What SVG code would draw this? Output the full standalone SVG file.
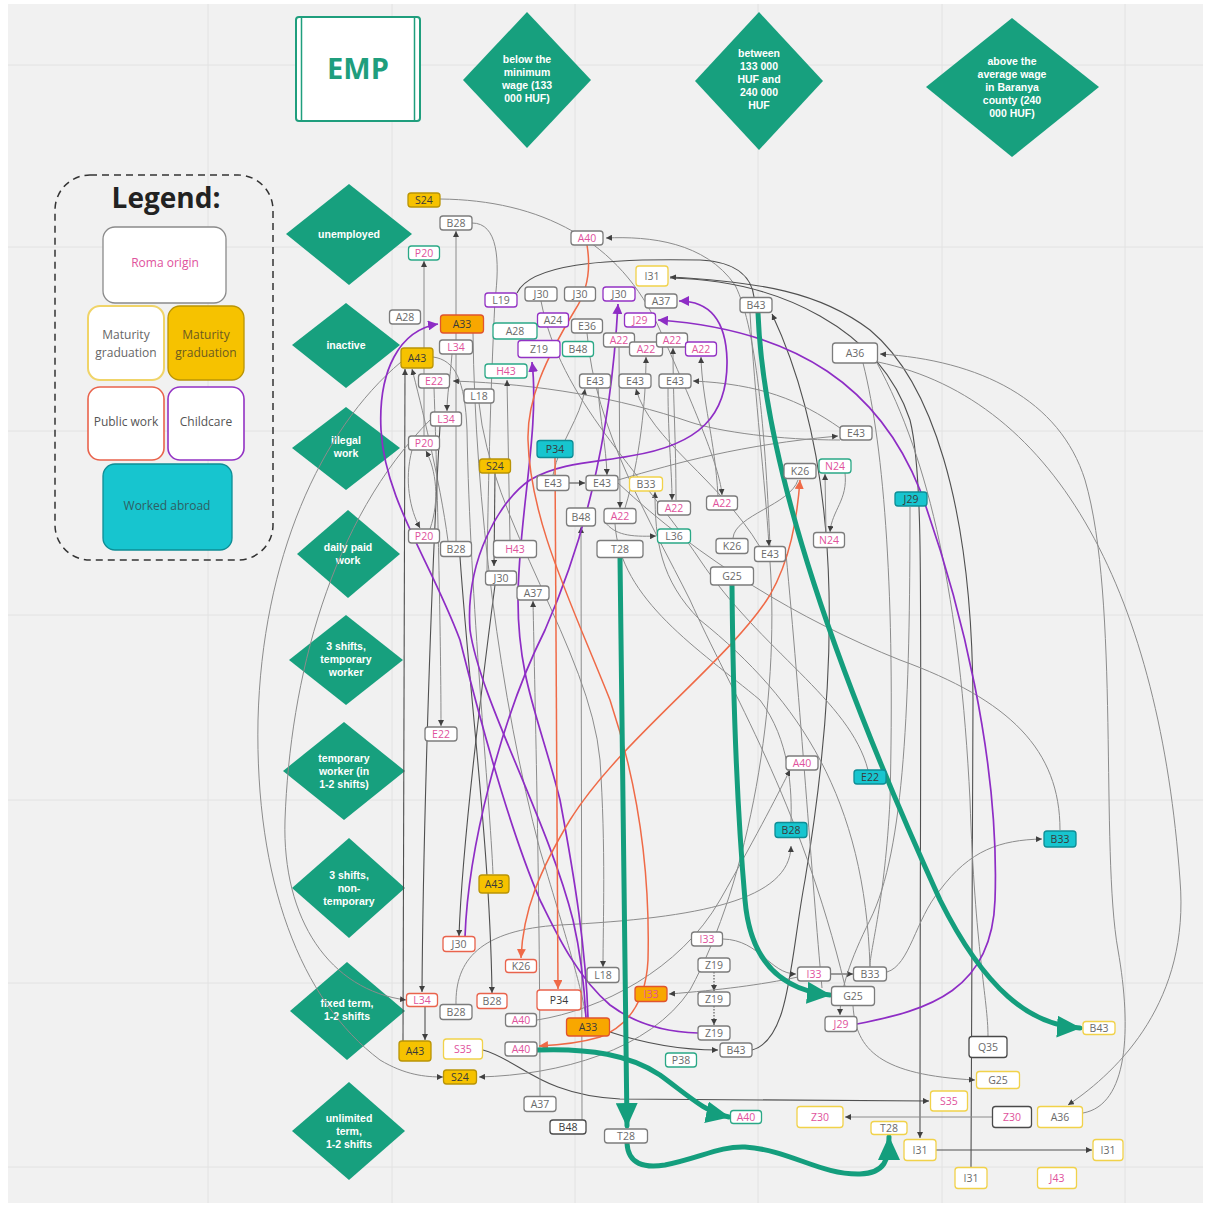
<svg xmlns="http://www.w3.org/2000/svg" width="1206" height="1206" viewBox="0 0 1206 1206">
<defs>
<style>
.grid{stroke:#e2e2e2;stroke-width:1}
.dia{fill:#17a07e}
.dt{fill:#fff;font-family:"Liberation Sans",Arial,sans-serif;font-weight:bold;font-size:10.5px;text-anchor:middle}
.n rect{stroke-width:1.3}
.bg{fill:#fff;stroke:#7c7c7c}
.bk{fill:#fff;stroke:#4a4a4a}
.by{fill:#fff;stroke:#f1d24a}
.bt{fill:#fff;stroke:#2aa886}
.br{fill:#fff;stroke:#e9634c}
.bp{fill:#fff;stroke:#9332c4}
.fy{fill:#f6c200;stroke:#b99406}
.fo{fill:#f8a700;stroke:#e0542e}
.fc{fill:#17c5cf;stroke:#0e8d95}
.n text{font-family:"Open Sans","DejaVu Sans",sans-serif;font-size:10.5px;text-anchor:middle}
.tg{fill:#6a6a6a}
.tp{fill:#e0529c}
.td{fill:#3a3a3a}
.c{fill:none;stroke:#8c8c8c;stroke-width:1}
.cd{fill:none;stroke:#505050;stroke-width:1.1}
.cp{fill:none;stroke:#8e2dc5;stroke-width:1.7}
.co{fill:none;stroke:#ef6a47;stroke-width:1.5}
.cg{fill:none;stroke:#149e7d;stroke-width:5;stroke-linecap:round}
.lt{font-family:"Open Sans","DejaVu Sans",sans-serif;font-size:12px;text-anchor:middle}
</style>
<marker id="ag" viewBox="0 0 6 6" refX="6" refY="3" markerWidth="6" markerHeight="6" markerUnits="userSpaceOnUse" orient="auto-start-reverse"><path d="M0,0 L6,3 L0,6 z" fill="#404040"/></marker>
<marker id="ap" viewBox="0 0 10 10" refX="10" refY="5" markerWidth="10" markerHeight="10" markerUnits="userSpaceOnUse" orient="auto-start-reverse"><path d="M0,0 L10,5 L0,10 z" fill="#8e2dc5"/></marker>
<marker id="ao" viewBox="0 0 9 9" refX="9" refY="4.5" markerWidth="9" markerHeight="9" markerUnits="userSpaceOnUse" orient="auto-start-reverse"><path d="M0,0 L9,4.5 L0,9 z" fill="#ef6a47"/></marker>
<marker id="agr" viewBox="0 0 24 22" refX="23" refY="11" markerWidth="24" markerHeight="22" markerUnits="userSpaceOnUse" orient="auto"><path d="M0,0 L24,11 L0,22 z" fill="#149e7d"/></marker>
</defs>
<rect width="1206" height="1206" fill="#fff"/>
<rect x="8" y="4" width="1195" height="1199" fill="#f1f1f1"/>
<g id="grid">
<path class="grid" d="M208,4V1203M392,4V1203M575,4V1203M758,4V1203M942,4V1203M1125,4V1203"/>
<path class="grid" d="M8,65H1203M8,247H1203M8,431H1203M8,615H1203M8,800H1203M8,983H1203M8,1167H1203"/>
</g>

<g id="header">
<g id="emp">
<rect x="296" y="17" width="124" height="104" rx="3" fill="#fff" stroke="#1f9e7d" stroke-width="2"/>
<path d="M301.5,17V121M414.5,17V121" stroke="#1f9e7d" stroke-width="1.5"/>
<text x="358" y="79" font-family="Open Sans,DejaVu Sans,sans-serif" font-weight="bold" font-size="29" fill="#1f9e7d" text-anchor="middle">EMP</text>
</g>
<g id="w1"><path class="dia" d="M527,12 L591,80 L527,148 L463,80 z"/>
<text class="dt"><tspan x="527" y="63">below the</tspan><tspan x="527" y="76">minimum</tspan><tspan x="527" y="89">wage (133</tspan><tspan x="527" y="102">000 HUF)</tspan></text></g>
<g id="w2"><path class="dia" d="M759,12 L823,81 L759,150 L695,81 z"/>
<text class="dt"><tspan x="759" y="57">between</tspan><tspan x="759" y="70">133 000</tspan><tspan x="759" y="83">HUF and</tspan><tspan x="759" y="96">240 000</tspan><tspan x="759" y="109">HUF</tspan></text></g>
<g id="w3"><path class="dia" d="M1012,18 L1099,87 L1012,157 L926,87 z"/>
<text class="dt"><tspan x="1012" y="65">above the</tspan><tspan x="1012" y="78">average wage</tspan><tspan x="1012" y="91">in Baranya</tspan><tspan x="1012" y="104">county (240</tspan><tspan x="1012" y="117">000 HUF)</tspan></text></g>
</g>

<g id="rows">
<g id="r1"><path class="dia" d="M349,184 L412,234 L349,285 L286,234 z"/><text class="dt" x="349" y="238">unemployed</text></g>
<g id="r2"><path class="dia" d="M346,303 L400,345 L346,388 L292,345 z"/><text class="dt" x="346" y="349">inactive</text></g>
<g id="r3"><path class="dia" d="M346,407 L400,448 L346,490 L292,448 z"/><text class="dt"><tspan x="346" y="444">illegal</tspan><tspan x="346" y="457">work</tspan></text></g>
<g id="r4"><path class="dia" d="M348,510 L400,554 L348,598 L297,554 z"/><text class="dt"><tspan x="348" y="551">daily paid</tspan><tspan x="348" y="564">work</tspan></text></g>
<g id="r5"><path class="dia" d="M346,615 L403,660 L346,705 L289,660 z"/><text class="dt"><tspan x="346" y="650">3 shifts,</tspan><tspan x="346" y="663">temporary</tspan><tspan x="346" y="676">worker</tspan></text></g>
<g id="r6"><path class="dia" d="M344,722 L405,771 L344,820 L283,771 z"/><text class="dt"><tspan x="344" y="762">temporary</tspan><tspan x="344" y="775">worker (in</tspan><tspan x="344" y="788">1-2 shifts)</tspan></text></g>
<g id="r7"><path class="dia" d="M349,838 L405,888 L349,938 L292,888 z"/><text class="dt"><tspan x="349" y="879">3 shifts,</tspan><tspan x="349" y="892">non-</tspan><tspan x="349" y="905">temporary</tspan></text></g>
<g id="r8"><path class="dia" d="M347,962 L405,1011 L347,1060 L290,1011 z"/><text class="dt"><tspan x="347" y="1007">fixed term,</tspan><tspan x="347" y="1020">1-2 shifts</tspan></text></g>
<g id="r9"><path class="dia" d="M349,1082 L405,1131 L349,1180 L292,1131 z"/><text class="dt"><tspan x="349" y="1122">unlimited</tspan><tspan x="349" y="1135">term,</tspan><tspan x="349" y="1148">1-2 shifts</tspan></text></g>
</g>

<g id="legend">
<rect x="55" y="175" width="218" height="385" rx="35" fill="none" stroke="#333" stroke-width="1.5" stroke-dasharray="7,5"/>
<text x="166" y="208" font-family="Open Sans,DejaVu Sans,sans-serif" font-weight="bold" font-size="28" fill="#222" text-anchor="middle">Legend:</text>
<g id="lg-roma"><rect x="103" y="227" width="123" height="76" rx="12" fill="#fff" stroke="#8a8a8a" stroke-width="1.3"/><text class="lt" x="165" y="267" fill="#e0529c">Roma origin</text></g>
<g id="lg-mat1"><rect x="88" y="306" width="76" height="74" rx="12" fill="#fff" stroke="#f0d468" stroke-width="2"/><text class="lt" fill="#666"><tspan x="126" y="339">Maturity</tspan><tspan x="126" y="357">graduation</tspan></text></g>
<g id="lg-mat2"><rect x="168" y="306" width="76" height="74" rx="12" fill="#f6c200" stroke="#b99406" stroke-width="1.3"/><text class="lt" fill="#6b5a20"><tspan x="206" y="339">Maturity</tspan><tspan x="206" y="357">graduation</tspan></text></g>
<g id="lg-pub"><rect x="88" y="387" width="76" height="73" rx="12" fill="#fff" stroke="#e9634c" stroke-width="1.6"/><text class="lt" x="126" y="426" fill="#555">Public work</text></g>
<g id="lg-child"><rect x="168" y="387" width="76" height="73" rx="12" fill="#fff" stroke="#9332c4" stroke-width="1.6"/><text class="lt" x="206" y="426" fill="#555">Childcare</text></g>
<g id="lg-abroad"><rect x="103" y="464" width="129" height="86" rx="12" fill="#17c5cf" stroke="#0e8d95" stroke-width="1.3"/><text class="lt" x="167" y="510" fill="#2f5e62">Worked abroad</text></g>
</g>

<g id="connectors">
<path class="c" d="M424,436 L424,261" marker-end="url(#ag)"/>
<path class="c" d="M456,541 L456,231" marker-end="url(#ag)"/>
<path class="c" d="M472,223 C498,223 500,260 495,300 C490,400 488,500 487,571"/>
<path class="cd" d="M403,1041 L405,369" marker-end="url(#ag)"/>
<path class="c" d="M448,541 C440,480 420,400 412,369" marker-end="url(#ag)"/>
<path class="cd" d="M425,1007 L425,1040" marker-end="url(#ag)"/>
<path class="cd" d="M440,426 C430,600 423,850 422,992" marker-end="url(#ag)"/>
<path class="c" d="M434,388 C438,500 441,650 441,726" marker-end="url(#ag)"/>
<path class="c" d="M440,199 C540,200 620,240 660,330 C700,420 720,470 722,495" marker-end="url(#ag)"/>
<path class="c" d="M770,546 C766,450 758,330 735,285 C705,242 650,236 606,238" marker-end="url(#ag)"/>
<path class="cd" d="M517,293 C530,265 600,258 700,260 C740,262 752,280 754,297"/>
<path class="cd" d="M670,278 C780,280 880,330 910,420 C925,480 920,600 920,1138" marker-end="url(#ag)"/>
<path class="cd" d="M971,1167 L973,700 C972,500 930,380 870,330 C820,292 760,282 670,277" marker-end="url(#ag)"/>
<path class="cd" d="M936,1150 L1092,1150" marker-end="url(#ag)"/>
<path class="cd" d="M483,1050 C520,1060 540,1095 620,1099 L929,1101" marker-end="url(#ag)"/>
<path class="c" d="M993,1117 L845,1117" marker-end="url(#ag)"/>
<path class="c" d="M853,1006 C856,1050 880,1075 975,1080" marker-end="url(#ag)"/>
<path class="cd" d="M610,1032 C640,1042 680,1050 718,1050" marker-end="url(#ag)"/>
<path class="cd" d="M752,1050 C790,1040 790,960 805,880 C835,700 850,480 772,314" marker-end="url(#ag)"/>
<path class="cd" d="M714,972 L714,991" stroke-dasharray="1.5,1.5" marker-end="url(#ag)"/>
<path class="cd" d="M714,1006 L714,1025" stroke-dasharray="1.5,1.5" marker-end="url(#ag)"/>
<path class="c" d="M723,939 C760,940 770,974 796,974" marker-end="url(#ag)"/>
<path class="cd" d="M831,974 L853,974" marker-end="url(#ag)"/>
<path class="c" d="M798,977 C760,985 720,990 669,994" marker-end="url(#ag)"/>
<path class="c" d="M887,972 C910,965 915,920 940,890 C970,850 1000,840 1042,839" marker-end="url(#ag)"/>
<path class="c" d="M910,507 C910,700 905,850 870,920 C850,960 840,990 840,1015" marker-end="url(#ag)"/>
<path class="c" d="M826,532 L825,474" marker-end="url(#ag)"/>
<path class="c" d="M845,473 C848,500 832,510 830,532" marker-end="url(#ag)"/>
<path class="c" d="M733,538 C735,515 790,505 798,480"/>
<path class="cd" d="M569,483 L585,483" marker-end="url(#ag)"/>
<path class="c" d="M598,388 C600,420 606,445 607,475" marker-end="url(#ag)"/>
<path class="c" d="M553,475 C560,440 580,420 585,389" marker-end="url(#ag)"/>
<path class="c" d="M760,547 C720,480 650,440 636,389" marker-end="url(#ag)"/>
<path class="c" d="M625,508 C640,460 646,400 646,357" marker-end="url(#ag)"/>
<path class="c" d="M676,500 C676,440 673,400 673,348" marker-end="url(#ag)"/>
<path class="c" d="M718,496 C715,440 702,400 701,357" marker-end="url(#ag)"/>
<path class="c" d="M668,388 C668,440 672,470 672,500" marker-end="url(#ag)"/>
<path class="c" d="M840,440 C780,440 720,432 690,422 C620,398 540,384 453,381" marker-end="url(#ag)"/>
<path class="c" d="M840,428 C800,400 760,384 693,381" marker-end="url(#ag)"/>
<path class="c" d="M618,480 C680,462 740,445 838,436" marker-end="url(#ag)"/>
<path class="c" d="M1083,1113 C1128,1105 1132,1030 1118,950 C1100,850 1120,600 1085,480 C1060,400 980,360 880,354" marker-end="url(#ag)"/>
<path class="c" d="M878,362 C1060,400 1160,600 1180,880 C1190,1000 1120,1070 1068,1105" marker-end="url(#ag)"/>
<path class="c" d="M618,483 C700,560 800,620 900,660 C1010,700 1060,750 1060,830"/>
<path class="c" d="M615,524 C620,600 700,650 760,700 C790,740 792,790 791,822"/>
<path class="c" d="M456,1005 C455,960 480,930 560,925 C700,918 790,900 791,846" marker-end="url(#ag)"/>
<path class="cd" d="M460,557 C470,700 490,850 492,993" marker-end="url(#ag)"/>
<path class="c" d="M431,419 C330,520 290,680 285,820 C282,920 330,990 406,1000" marker-end="url(#ag)"/>
<path class="c" d="M401,362 C320,430 262,560 258,720 C255,880 300,1000 380,1060 C405,1075 425,1077 443,1077" marker-end="url(#ag)"/>
<path class="c" d="M770,562 C780,700 750,880 690,990 C650,1050 560,1075 479,1077" marker-end="url(#ag)"/>
<path class="cd" d="M495,473 L494,566" marker-end="url(#ag)"/>
<path class="c" d="M510,541 L507,380" marker-end="url(#ag)"/>
<path class="c" d="M540,1096 C540,900 535,700 533,601" marker-end="url(#ag)"/>
<path class="c" d="M582,1120 L581,527" marker-end="url(#ag)"/>
<path class="c" d="M479,403 C490,520 590,650 600,760 C606,850 603,920 603,967" marker-end="url(#ag)"/>
<path class="c" d="M537,1020 C600,1010 680,970 720,900 C760,830 780,790 790,770" marker-end="url(#ag)"/>
<path class="cd" d="M495,585 C480,700 462,850 459,936" marker-end="url(#ag)"/>
<path class="c" d="M605,522 C615,535 630,537 656,536" marker-end="url(#ag)"/>
<path class="c" d="M619,347 L620,508" marker-end="url(#ag)"/>
<path class="c" d="M870,967 C865,800 800,700 700,620 C660,580 655,540 655,492" marker-end="url(#ag)"/>
<path class="c" d="M452,354 C450,380 447,395 447,411" marker-end="url(#ag)"/>
<path class="c" d="M433,357 C455,360 465,380 467,430 C470,600 490,800 493,874"/>
<path class="c" d="M473,333 C475,500 500,700 540,850 C570,950 582,990 586,1017"/>
<path class="c" d="M863,363 C885,450 895,600 890,800 C885,900 870,950 870,966"/>
<path class="c" d="M877,363 C930,460 960,600 970,800 C975,950 988,1000 988,1036"/>
<path class="c" d="M786,554 C800,700 812,880 822,988"/>
<path class="c" d="M412,450 C404,480 410,510 420,528" marker-end="url(#ag)"/>
<path class="c" d="M430,529 C440,500 436,470 426,451" marker-end="url(#ag)"/>
<path class="c" d="M750,313 C755,400 765,480 769,546" marker-end="url(#ag)"/>
<path class="c" d="M587,333 C595,430 650,520 690,600 C730,690 800,800 845,986"/>
<path class="c" d="M541,301 C560,400 640,470 700,560 C760,650 850,700 868,770"/>

<path class="cp" d="M698,1033 C660,1032 630,1020 610,1005 C575,975 555,930 540,900 C510,830 480,720 460,640 C430,560 385,500 381,430 C378,370 400,330 438,324" marker-end="url(#ap)"/>
<path class="cp" d="M465,937 C468,850 500,720 545,630 C580,550 610,450 618,304" marker-end="url(#ap)"/>
<path class="cp" d="M588,1018 C586,950 575,880 560,800 C540,720 518,680 518,600 C518,520 540,430 532,362" marker-end="url(#ap)"/>
<path class="cp" d="M586,1018 C584,980 580,950 573,920 C548,820 480,700 470,630 C465,560 500,500 530,480 C560,462 600,462 630,456 C700,445 728,415 727,360 C726,320 710,301 679,301" marker-end="url(#ap)"/>
<path class="cp" d="M857,1024 C930,1010 992,990 995,900 C1000,760 960,600 920,490 C880,390 800,330 658,320" marker-end="url(#ap)"/>

<path class="co" d="M587,245 C592,275 585,295 575,310 C545,360 527,400 528,440 C530,520 570,600 610,700 C640,790 650,880 648,960 C646,1000 630,1025 600,1037 C580,1043 560,1045 539,1046" marker-end="url(#ao)"/>
<path class="co" d="M800,480 C797,520 790,560 770,595 C730,660 620,740 570,820 C540,870 523,910 521,958" marker-start="url(#ao)" marker-end="url(#ao)"/>
<path class="co" d="M555,458 L558,989" marker-end="url(#ao)"/>

<path class="cg" d="M758,313 C764,470 840,680 940,900 C985,990 1030,1025 1080,1028" marker-end="url(#agr)"/>
<path class="cg" d="M620,558 L627,1126" marker-end="url(#agr)"/>
<path class="cg" d="M627,1143 C628,1165 645,1168 665,1165 C700,1158 720,1146 745,1147 C790,1150 820,1175 860,1174 C885,1173 889,1160 889,1137" marker-end="url(#agr)"/>
<path class="cg" d="M732,585 C733,700 738,820 745,900 C750,960 780,990 830,995" marker-end="url(#agr)"/>
<path class="cg" d="M537,1050 C590,1048 630,1055 660,1075 C690,1097 705,1112 729,1117" marker-end="url(#agr)"/>
</g>

<g id="nodes">
<g id="n-S24a" class="n"><rect class="fy" x="408" y="193" width="32" height="14" rx="3"/><text class="td" x="424" y="203.7">S24</text></g>
<g id="n-B28a" class="n"><rect class="bg" x="440" y="216" width="32" height="14" rx="3"/><text class="tg" x="456" y="226.7">B28</text></g>
<g id="n-P20a" class="n"><rect class="bt" x="408.5" y="246" width="31" height="14" rx="3"/><text class="tp" x="424" y="256.7">P20</text></g>
<g id="n-A40a" class="n"><rect class="bg" x="571" y="231" width="32" height="14" rx="3"/><text class="tp" x="587" y="241.7">A40</text></g>
<g id="n-I31a" class="n"><rect class="by" x="636" y="266" width="32" height="20" rx="3"/><text class="tg" x="652" y="279.7">I31</text></g>
<g id="n-L19" class="n"><rect class="bp" x="485" y="293" width="32" height="14" rx="3"/><text class="tg" x="501" y="303.7">L19</text></g>
<g id="n-J30a" class="n"><rect class="bg" x="525" y="287" width="32" height="14" rx="3"/><text class="tg" x="541" y="297.7">J30</text></g>
<g id="n-J30b" class="n"><rect class="bg" x="564.5" y="287" width="31" height="14" rx="3"/><text class="tg" x="580" y="297.7">J30</text></g>
<g id="n-J30c" class="n"><rect class="bp" x="603" y="287" width="32" height="14" rx="3"/><text class="tg" x="619" y="297.7">J30</text></g>
<g id="n-A37a" class="n"><rect class="bg" x="645" y="294" width="32" height="14" rx="3"/><text class="tg" x="661" y="304.7">A37</text></g>
<g id="n-A28a" class="n"><rect class="bg" x="389.5" y="310" width="31" height="14" rx="3"/><text class="tg" x="405" y="320.7">A28</text></g>
<g id="n-A33a" class="n"><rect class="fo" x="440.5" y="315" width="43" height="18" rx="3"/><text class="td" x="462" y="327.7">A33</text></g>
<g id="n-A24" class="n"><rect class="bp" x="537.5" y="313" width="31" height="14" rx="3"/><text class="tg" x="553" y="323.7">A24</text></g>
<g id="n-A28b" class="n"><rect class="bt" x="493" y="323" width="44" height="16" rx="3"/><text class="tg" x="515" y="334.7">A28</text></g>
<g id="n-E36" class="n"><rect class="bg" x="571.5" y="319" width="31" height="14" rx="3"/><text class="tg" x="587" y="329.7">E36</text></g>
<g id="n-J29a" class="n"><rect class="bp" x="624.5" y="313" width="31" height="14" rx="3"/><text class="tp" x="640" y="323.7">J29</text></g>
<g id="n-A22a" class="n"><rect class="bg" x="603.5" y="333" width="31" height="14" rx="3"/><text class="tp" x="619" y="343.7">A22</text></g>
<g id="n-A22b" class="n"><rect class="bg" x="629.5" y="342" width="33" height="14" rx="3"/><text class="tp" x="646" y="352.7">A22</text></g>
<g id="n-A22c" class="n"><rect class="bg" x="656.5" y="333" width="31" height="14" rx="3"/><text class="tp" x="672" y="343.7">A22</text></g>
<g id="n-A22d" class="n"><rect class="bp" x="685.5" y="342" width="31" height="14" rx="3"/><text class="tp" x="701" y="352.7">A22</text></g>
<g id="n-A43a" class="n"><rect class="fy" x="401" y="348" width="32" height="20" rx="3"/><text class="td" x="417" y="361.7">A43</text></g>
<g id="n-L34a" class="n"><rect class="bg" x="439.5" y="340" width="33" height="14" rx="3"/><text class="tp" x="456" y="350.7">L34</text></g>
<g id="n-Z19a" class="n"><rect class="bp" x="518" y="340.5" width="42" height="17" rx="3"/><text class="tg" x="539" y="352.7">Z19</text></g>
<g id="n-B48a" class="n"><rect class="bt" x="562.5" y="341.5" width="31" height="15" rx="3"/><text class="tg" x="578" y="352.7">B48</text></g>
<g id="n-H43a" class="n"><rect class="bt" x="485" y="364" width="42" height="14" rx="3"/><text class="tp" x="506" y="374.7">H43</text></g>
<g id="n-E22a" class="n"><rect class="bg" x="418.5" y="374" width="31" height="14" rx="3"/><text class="tp" x="434" y="384.7">E22</text></g>
<g id="n-E43a" class="n"><rect class="bg" x="579.5" y="374" width="31" height="14" rx="3"/><text class="tg" x="595" y="384.7">E43</text></g>
<g id="n-E43b" class="n"><rect class="bg" x="619" y="374" width="32" height="14" rx="3"/><text class="tg" x="635" y="384.7">E43</text></g>
<g id="n-E43c" class="n"><rect class="bg" x="659" y="374" width="32" height="14" rx="3"/><text class="tg" x="675" y="384.7">E43</text></g>
<g id="n-L18a" class="n"><rect class="bg" x="464" y="389" width="30" height="14" rx="3"/><text class="tg" x="479" y="399.7">L18</text></g>
<g id="n-L34b" class="n"><rect class="bg" x="430.5" y="412" width="31" height="14" rx="3"/><text class="tp" x="446" y="422.7">L34</text></g>
<g id="n-B43a" class="n"><rect class="bg" x="740" y="297.5" width="32" height="15" rx="3"/><text class="tg" x="756" y="308.7">B43</text></g>
<g id="n-A36a" class="n"><rect class="bg" x="832.5" y="343" width="45" height="20" rx="3"/><text class="tg" x="855" y="356.7">A36</text></g>
<g id="n-E43d" class="n"><rect class="bg" x="840" y="426" width="32" height="14" rx="3"/><text class="tg" x="856" y="436.7">E43</text></g>
<g id="n-P20b" class="n"><rect class="bg" x="408.5" y="436" width="31" height="14" rx="3"/><text class="tp" x="424" y="446.7">P20</text></g>
<g id="n-P34a" class="n"><rect class="fc" x="537" y="440.5" width="36" height="17" rx="3"/><text class="td" x="555" y="452.7">P34</text></g>
<g id="n-S24b" class="n"><rect class="fy" x="479.5" y="459" width="31" height="14" rx="3"/><text class="td" x="495" y="469.7">S24</text></g>
<g id="n-E43e" class="n"><rect class="bg" x="537" y="475.5" width="32" height="15" rx="3"/><text class="tg" x="553" y="486.7">E43</text></g>
<g id="n-E43f" class="n"><rect class="bg" x="586" y="475.5" width="32" height="15" rx="3"/><text class="tg" x="602" y="486.7">E43</text></g>
<g id="n-B33a" class="n"><rect class="by" x="629.5" y="477" width="33" height="14" rx="3"/><text class="tg" x="646" y="487.7">B33</text></g>
<g id="n-B48b" class="n"><rect class="bg" x="566.5" y="508" width="29" height="18" rx="3"/><text class="tg" x="581" y="520.7">B48</text></g>
<g id="n-A22e" class="n"><rect class="bg" x="604" y="508.5" width="32" height="15" rx="3"/><text class="tp" x="620" y="519.7">A22</text></g>
<g id="n-A22f" class="n"><rect class="bg" x="657.5" y="501" width="33" height="14" rx="3"/><text class="tp" x="674" y="511.7">A22</text></g>
<g id="n-L36" class="n"><rect class="bt" x="657.5" y="529" width="33" height="14" rx="3"/><text class="tg" x="674" y="539.7">L36</text></g>
<g id="n-P20c" class="n"><rect class="bg" x="408.5" y="529" width="31" height="14" rx="3"/><text class="tp" x="424" y="539.7">P20</text></g>
<g id="n-B28b" class="n"><rect class="bg" x="440.5" y="541.5" width="31" height="15" rx="3"/><text class="tg" x="456" y="552.7">B28</text></g>
<g id="n-H43b" class="n"><rect class="bg" x="493.5" y="540.5" width="43" height="17" rx="3"/><text class="tp" x="515" y="552.7">H43</text></g>
<g id="n-T28a" class="n"><rect class="bg" x="597" y="540.5" width="46" height="17" rx="3"/><text class="tg" x="620" y="552.7">T28</text></g>
<g id="n-J30d" class="n"><rect class="bg" x="485.5" y="571" width="31" height="14" rx="3"/><text class="tg" x="501" y="581.7">J30</text></g>
<g id="n-A37b" class="n"><rect class="bg" x="517" y="586" width="32" height="14" rx="3"/><text class="tg" x="533" y="596.7">A37</text></g>
<g id="n-A22g" class="n"><rect class="bg" x="706.5" y="496" width="31" height="14" rx="3"/><text class="tp" x="722" y="506.7">A22</text></g>
<g id="n-K26a" class="n"><rect class="bg" x="784" y="463.5" width="32" height="15" rx="3"/><text class="tg" x="800" y="474.7">K26</text></g>
<g id="n-N24a" class="n"><rect class="bt" x="819" y="459" width="32" height="14" rx="3"/><text class="tp" x="835" y="469.7">N24</text></g>
<g id="n-J29b" class="n"><rect class="fc" x="895" y="492" width="32" height="14" rx="3"/><text class="td" x="911" y="502.7">J29</text></g>
<g id="n-K26b" class="n"><rect class="bg" x="716" y="538.5" width="32" height="15" rx="3"/><text class="tg" x="732" y="549.7">K26</text></g>
<g id="n-E43g" class="n"><rect class="bg" x="754.5" y="546.5" width="31" height="15" rx="3"/><text class="tg" x="770" y="557.7">E43</text></g>
<g id="n-N24b" class="n"><rect class="bg" x="813.5" y="532.5" width="31" height="15" rx="3"/><text class="tp" x="829" y="543.7">N24</text></g>
<g id="n-G25a" class="n"><rect class="bg" x="710.5" y="567" width="43" height="18" rx="3"/><text class="tg" x="732" y="579.7">G25</text></g>
<g id="n-E22b" class="n"><rect class="bg" x="425" y="727" width="32" height="14" rx="3"/><text class="tp" x="441" y="737.7">E22</text></g>
<g id="n-A40b" class="n"><rect class="bg" x="786" y="756" width="32" height="14" rx="3"/><text class="tp" x="802" y="766.7">A40</text></g>
<g id="n-E22c" class="n"><rect class="fc" x="854" y="770" width="32" height="14" rx="3"/><text class="td" x="870" y="780.7">E22</text></g>
<g id="n-B28c" class="n"><rect class="fc" x="775" y="822.5" width="32" height="15" rx="3"/><text class="td" x="791" y="833.7">B28</text></g>
<g id="n-B33b" class="n"><rect class="fc" x="1044" y="831" width="32" height="16" rx="3"/><text class="td" x="1060" y="842.7">B33</text></g>
<g id="n-A43b" class="n"><rect class="fy" x="479" y="875" width="30" height="18" rx="3"/><text class="td" x="494" y="887.7">A43</text></g>
<g id="n-J30e" class="n"><rect class="br" x="443" y="936.5" width="32" height="15" rx="3"/><text class="tg" x="459" y="947.7">J30</text></g>
<g id="n-K26c" class="n"><rect class="br" x="505.5" y="959.5" width="31" height="13" rx="3"/><text class="tg" x="521" y="969.7">K26</text></g>
<g id="n-L18b" class="n"><rect class="bg" x="587" y="967.5" width="32" height="15" rx="3"/><text class="tg" x="603" y="978.7">L18</text></g>
<g id="n-I33a" class="n"><rect class="fo" x="635" y="986.5" width="32" height="15" rx="3"/><text class="tp" x="651" y="997.7">I33</text></g>
<g id="n-L34c" class="n"><rect class="br" x="406.5" y="993.5" width="31" height="13" rx="3"/><text class="tp" x="422" y="1003.7">L34</text></g>
<g id="n-B28d" class="n"><rect class="br" x="477" y="993.5" width="30" height="15" rx="3"/><text class="tg" x="492" y="1004.7">B28</text></g>
<g id="n-P34b" class="n"><rect class="br" x="537" y="990" width="44" height="20" rx="3"/><text class="td" x="559" y="1003.7">P34</text></g>
<g id="n-B28e" class="n"><rect class="bg" x="440" y="1004.5" width="32" height="15" rx="3"/><text class="tg" x="456" y="1015.7">B28</text></g>
<g id="n-A40c" class="n"><rect class="bg" x="505.5" y="1013.5" width="31" height="13" rx="3"/><text class="tp" x="521" y="1023.7">A40</text></g>
<g id="n-A33b" class="n"><rect class="fo" x="566.5" y="1018" width="43" height="18" rx="3"/><text class="td" x="588" y="1030.7">A33</text></g>
<g id="n-A43c" class="n"><rect class="fy" x="399" y="1041" width="32" height="20" rx="3"/><text class="td" x="415" y="1054.7">A43</text></g>
<g id="n-S35a" class="n"><rect class="by" x="443.5" y="1039" width="39" height="20" rx="3"/><text class="tp" x="463" y="1052.7">S35</text></g>
<g id="n-A40d" class="n"><rect class="bg" x="505" y="1042" width="32" height="14" rx="3"/><text class="tp" x="521" y="1052.7">A40</text></g>
<g id="n-S24c" class="n"><rect class="fy" x="443.5" y="1070" width="33" height="14" rx="3"/><text class="td" x="460" y="1080.7">S24</text></g>
<g id="n-A37c" class="n"><rect class="bg" x="524" y="1096.5" width="32" height="15" rx="3"/><text class="tg" x="540" y="1107.7">A37</text></g>
<g id="n-B48c" class="n"><rect class="bk" x="550" y="1120" width="36" height="14" rx="3"/><text class="td" x="568" y="1130.7">B48</text></g>
<g id="n-T28b" class="n"><rect class="bg" x="604.5" y="1129" width="43" height="14" rx="3"/><text class="tg" x="626" y="1139.7">T28</text></g>
<g id="n-P38" class="n"><rect class="bt" x="665.5" y="1053" width="31" height="14" rx="3"/><text class="tg" x="681" y="1063.7">P38</text></g>
<g id="n-I33b" class="n"><rect class="bg" x="691.5" y="932" width="31" height="14" rx="3"/><text class="tp" x="707" y="942.7">I33</text></g>
<g id="n-Z19b" class="n"><rect class="bg" x="698" y="958" width="32" height="14" rx="3"/><text class="tg" x="714" y="968.7">Z19</text></g>
<g id="n-Z19c" class="n"><rect class="bg" x="698" y="992" width="32" height="14" rx="3"/><text class="tg" x="714" y="1002.7">Z19</text></g>
<g id="n-Z19d" class="n"><rect class="bg" x="698" y="1026" width="32" height="14" rx="3"/><text class="tg" x="714" y="1036.7">Z19</text></g>
<g id="n-B43b" class="n"><rect class="bg" x="720" y="1043" width="32" height="14" rx="3"/><text class="tg" x="736" y="1053.7">B43</text></g>
<g id="n-I33c" class="n"><rect class="bg" x="797.5" y="967" width="33" height="14" rx="3"/><text class="tp" x="814" y="977.7">I33</text></g>
<g id="n-B33c" class="n"><rect class="bg" x="853.5" y="967" width="33" height="14" rx="3"/><text class="tg" x="870" y="977.7">B33</text></g>
<g id="n-G25b" class="n"><rect class="bg" x="831.5" y="986.5" width="43" height="19" rx="3"/><text class="tg" x="853" y="999.7">G25</text></g>
<g id="n-J29c" class="n"><rect class="bg" x="825" y="1016.5" width="32" height="15" rx="3"/><text class="tp" x="841" y="1027.7">J29</text></g>
<g id="n-A40e" class="n"><rect class="bt" x="730.5" y="1110.5" width="31" height="13" rx="3"/><text class="tp" x="746" y="1120.7">A40</text></g>
<g id="n-Z30a" class="n"><rect class="by" x="797" y="1106.5" width="46" height="21" rx="3"/><text class="tp" x="820" y="1120.7">Z30</text></g>
<g id="n-T28c" class="n"><rect class="by" x="871" y="1121.5" width="36" height="13" rx="3"/><text class="tg" x="889" y="1131.7">T28</text></g>
<g id="n-I31b" class="n"><rect class="by" x="904" y="1139.5" width="32" height="21" rx="3"/><text class="tg" x="920" y="1153.7">I31</text></g>
<g id="n-B43c" class="n"><rect class="by" x="1083" y="1021.5" width="32" height="13" rx="3"/><text class="tg" x="1099" y="1031.7">B43</text></g>
<g id="n-Q35" class="n"><rect class="bk" x="969" y="1036.5" width="38" height="21" rx="3"/><text class="tg" x="988" y="1050.7">Q35</text></g>
<g id="n-G25c" class="n"><rect class="by" x="976.5" y="1071.5" width="43" height="17" rx="3"/><text class="tg" x="998" y="1083.7">G25</text></g>
<g id="n-S35b" class="n"><rect class="by" x="930.5" y="1091" width="37" height="20" rx="3"/><text class="tp" x="949" y="1104.7">S35</text></g>
<g id="n-Z30b" class="n"><rect class="bk" x="992.5" y="1106.5" width="39" height="21" rx="3"/><text class="tp" x="1012" y="1120.7">Z30</text></g>
<g id="n-A36b" class="n"><rect class="by" x="1037.5" y="1106.5" width="45" height="21" rx="3"/><text class="tg" x="1060" y="1120.7">A36</text></g>
<g id="n-I31c" class="n"><rect class="by" x="1093" y="1139.5" width="30" height="21" rx="3"/><text class="tg" x="1108" y="1153.7">I31</text></g>
<g id="n-I31d" class="n"><rect class="by" x="955" y="1167.5" width="32" height="21" rx="3"/><text class="tg" x="971" y="1181.7">I31</text></g>
<g id="n-J43" class="n"><rect class="by" x="1037.5" y="1167.5" width="39" height="21" rx="3"/><text class="tp" x="1057" y="1181.7">J43</text></g>
</g>
</svg>
